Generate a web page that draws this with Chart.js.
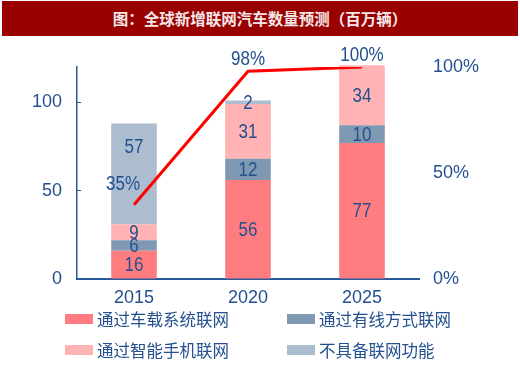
<!DOCTYPE html>
<html>
<head>
<meta charset="utf-8">
<script src="https://cdn.jsdelivr.net/npm/chart.js@4/dist/chart.umd.min.js"></script>
<style>
  body { margin: 0; background: #fff; }
  #wrap { position: relative; width: 520px; height: 365px; overflow: hidden; }
  #title {
    position: absolute; left: 2px; top: 1px; width: 516px; height: 35px;
    background: #990000; color: #f6e7e7;
    font: bold 15.5px "Noto Sans CJK SC", sans-serif;
    line-height: 35px; text-align: center;
  }
  #legend {
    position: absolute; left: 65px; top: 303px;
    display: grid; grid-template-columns: 222px auto; grid-auto-rows: 31px;
    font: 16.5px "Noto Sans CJK SC", sans-serif; color: #24508f;
  }
  #legend .item { display: flex; align-items: center; }
  #legend .box { width: 28px; height: 10px; margin-right: 4px; }
</style>
</head>
<body>
<div id="wrap">
  <canvas id="chart" width="520" height="365"></canvas>
  <div id="title">图：全球新增联网汽车数量预测（百万辆）</div>
  <div id="legend"></div>
</div>
<script>
const years = ["2015", "2020", "2025"];
const viaSystem = [16, 56, 77];
const viaWired = [6, 12, 10];
const viaPhone = [9, 31, 34];
const notConnected = [57, 2, 0];
const connectedShare = [35, 98, 100];

const textBlue = "#24508f";
const axisBlue = "#2a5a9a";
const tickFont = { family: '"Liberation Sans", Arial, sans-serif', size: 18 };

// value labels for bars and the share line (narrowed to look like the source)
const valueLabels = {
  id: "valueLabels",
  afterDatasetsDraw(chart) {
    const ctx = chart.ctx;
    const put = (text, x, y) => {
      ctx.save();
      ctx.translate(x, y);
      ctx.scale(0.85, 1);
      ctx.fillText(text, 0, 0);
      ctx.restore();
    };
    ctx.save();
    ctx.font = '20px "Liberation Sans", Arial, sans-serif';
    ctx.fillStyle = textBlue;
    ctx.textAlign = "center";
    ctx.textBaseline = "middle";
    const last = chart.data.datasets.length - 1;
    chart.data.datasets.forEach((ds, i) => {
      chart.getDatasetMeta(i).data.forEach((el, j) => {
        const v = ds.data[j];
        if (!v) return;
        if (ds.type === "line") {
          const dx = j === 0 ? -11 : 0;
          const dy = j === 0 ? -20 : -12;
          put(v + "%", el.x + dx, el.y + dy);
        } else {
          const p = el.getProps(["x", "y", "base"], true);
          let y = (p.y + p.base) / 2 + 1;
          // the top segment label sits near the top so it clears the line label
          if (i === last) y = Math.min(y, p.y + 24);
          put(String(v), p.x, y);
        }
      });
    });
    ctx.restore();
  }
};

const chart = new Chart(document.getElementById("chart"), {
  data: {
    labels: years,
    datasets: [
      { type: "line", label: "联网比例", data: connectedShare, yAxisID: "y1", order: 0,
        borderColor: "#ff0000", borderWidth: 3, pointRadius: 0, tension: 0 },
      { type: "bar", label: "通过车载系统联网", data: viaSystem, backgroundColor: "#ff7c80", order: 1 },
      { type: "bar", label: "通过有线方式联网", data: viaWired, backgroundColor: "#8099b3", order: 1 },
      { type: "bar", label: "通过智能手机联网", data: viaPhone, backgroundColor: "#ffb3b5", order: 1 },
      { type: "bar", label: "不具备联网功能", data: notConnected, backgroundColor: "#adbdd0", order: 1 }
    ]
  },
  options: {
    responsive: false,
    animation: false,
    devicePixelRatio: 1,
    layout: { padding: { top: 67, bottom: 56, left: 0, right: 0 } },
    datasets: { bar: { barPercentage: 0.4, categoryPercentage: 1, clip: false } },
    plugins: { legend: { display: false }, tooltip: { enabled: false } },
    scales: {
      x: {
        stacked: true,
        grid: { display: false, drawTicks: false },
        border: { color: axisBlue, width: 2 },
        ticks: { color: textBlue, font: tickFont, padding: 8 },
        afterFit: s => { s.height = 30; }
      },
      y: {
        stacked: true, min: 0, max: 120,
        grid: {
          drawOnChartArea: false, tickLength: -4,
          color: c => c.tick && c.tick.value % 50 === 0 ? axisBlue : "transparent"
        },
        border: { color: axisBlue, width: 1.5 },
        ticks: {
          stepSize: 50, padding: 19, color: textBlue, font: tickFont,
          callback: v => v % 50 === 0 ? v : ""
        },
        afterFit: s => { s.width = 77; }
      },
      y1: {
        position: "right", min: 0, max: 100,
        grid: { display: false, drawTicks: false },
        border: { display: false },
        ticks: {
          stepSize: 50, padding: 14, color: textBlue, font: tickFont,
          callback: v => v + "%"
        },
        afterFit: s => { s.width = 101; }
      }
    }
  },
  plugins: [valueLabels]
});

// two-column legend built from the bar datasets
const legend = document.getElementById("legend");
chart.data.datasets.filter(ds => ds.type === "bar").forEach(ds => {
  const item = document.createElement("div");
  item.className = "item";
  item.innerHTML = '<span class="box" style="background:' + ds.backgroundColor + '"></span><span>' + ds.label + "</span>";
  legend.appendChild(item);
});
</script>
</body>
</html>
